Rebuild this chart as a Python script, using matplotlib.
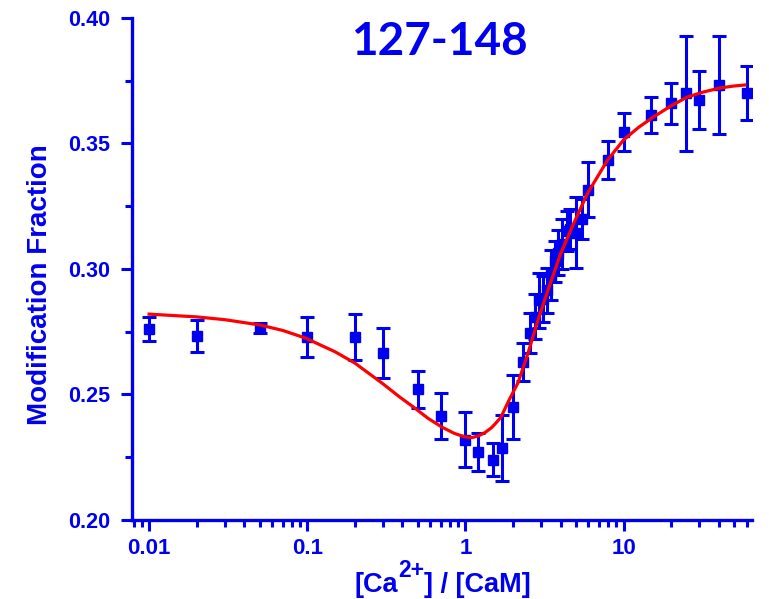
import matplotlib.pyplot as plt
from matplotlib.ticker import FixedLocator, LogLocator, NullFormatter

BLUE = '#0000f0'
RED = '#ff0000'

# measured modification fraction vs Ca/CaM ratio
ratio = [0.01, 0.02, 0.05, 0.1, 0.2, 0.3, 0.5, 0.7, 1.0, 1.2, 1.5, 1.7, 2.0,
         2.3, 2.55, 2.75, 2.9, 3.1, 3.3, 3.5, 3.7, 3.85, 4.1, 4.4, 4.6, 5.0,
         5.5, 6.0, 8.0, 10.0, 15.0, 20.0, 25.0, 30.0, 40.0, 60.0]
frac = [0.2761, 0.2733, 0.2765, 0.2729, 0.2729, 0.2665, 0.2520, 0.2414,
        0.2320, 0.2270, 0.2240, 0.2287, 0.2450, 0.2630, 0.2745, 0.2810,
        0.2875, 0.2880, 0.2915, 0.2975, 0.3030, 0.3065, 0.3100, 0.3150,
        0.3160, 0.3145, 0.3200, 0.3315, 0.3434, 0.3546, 0.3614, 0.3660,
        0.3700, 0.3673, 0.3733, 0.3700]
err = [0.0048, 0.0064, 0.0020, 0.0080, 0.0093, 0.0100, 0.0075, 0.0090,
       0.0110, 0.0075, 0.0065, 0.0130, 0.0128, 0.0075, 0.0080, 0.0090,
       0.0110, 0.0090, 0.0090, 0.0100, 0.0080, 0.0090, 0.0100, 0.0080,
       0.0080, 0.0140, 0.0080, 0.0110, 0.0076, 0.0076, 0.0072, 0.0082,
       0.0230, 0.0115, 0.0197, 0.0108]

# fitted binding curve
fit_x = [0.01, 0.02, 0.03, 0.05, 0.07, 0.097, 0.15, 0.2, 0.296, 0.38, 0.478,
         0.58, 0.71, 0.85, 0.99, 1.1, 1.21, 1.33, 1.46, 1.57, 1.68, 1.89,
         2.15, 2.49, 2.88, 3.33, 4.02, 4.85, 5.94, 7.93, 10.0, 12.5, 15.5,
         20.0, 25.3, 32.0, 40.7, 50.0, 58.5]
fit_y = [0.2820, 0.2809, 0.2798, 0.2777, 0.2755, 0.2725, 0.2670, 0.2625,
         0.2546, 0.2492, 0.2446, 0.2405, 0.2370, 0.2345, 0.2331, 0.2328,
         0.2335, 0.2348, 0.2367, 0.2388, 0.2410, 0.2478, 0.2546, 0.2665,
         0.2797, 0.2916, 0.3064, 0.3183, 0.3303, 0.3434, 0.3514, 0.3565,
         0.3606, 0.3650, 0.3685, 0.3705, 0.3721, 0.3729, 0.3733]

yticks = [0.20, 0.25, 0.30, 0.35, 0.40]

plt.rcParams['font.family'] = ['Liberation Sans', 'DejaVu Sans']
plt.rcParams['font.weight'] = 'bold'

fig = plt.figure(figsize=(7.69, 5.99), dpi=100)
ax = fig.add_axes([0.1717, 0.132, 0.8063, 0.838])

ax.errorbar(ratio, frac, yerr=err, fmt='s', color=BLUE, ms=7.5, elinewidth=2.2,
            capsize=5, capthick=2.2, zorder=2)
ax.plot(fit_x, fit_y, color=RED, lw=2.3, solid_joinstyle='round', zorder=3)

ax.set_xscale('log')
ax.set_xlim(0.0078, 65)
ax.set_ylim(0.20, 0.40)

ax.xaxis.set_major_locator(FixedLocator([0.01, 0.1, 1, 10]))
ax.set_xticklabels(['0.01', '0.1', '1', '10'])
ax.xaxis.set_minor_locator(LogLocator(base=10, subs=range(2, 10)))
ax.xaxis.set_minor_formatter(NullFormatter())
ax.set_yticks(yticks)
ax.set_yticklabels(['%.2f' % v for v in yticks])
ax.yaxis.set_minor_locator(FixedLocator([0.225, 0.275, 0.325, 0.375]))

for side in ['top', 'right']:
    ax.spines[side].set_visible(False)
for side in ['left', 'bottom']:
    ax.spines[side].set_color(BLUE)
    ax.spines[side].set_linewidth(2.4)

ax.tick_params(which='major', direction='out', length=8, width=2.2,
               color=BLUE, labelcolor=BLUE)
ax.tick_params(which='minor', direction='out', length=5, width=2.2, color=BLUE)
ax.tick_params(axis='y', labelsize=15.5, pad=8)
ax.tick_params(axis='x', labelsize=16, pad=5)

ax.set_ylabel('Modification Fraction', color=BLUE, fontsize=20,
              fontweight='bold')
ax.yaxis.set_label_coords(-0.127, 0.468)

# x label with a raised "2+" put together from three pieces
renderer = fig.canvas.get_renderer()
base_y = 7 / 599
parts = [('[Ca', 19.5, 0), ('2+', 16.5, 15), ('] / [CaM]', 19.5, 0)]
texts = []
x_px = 0
for s, size, rise in parts:
    t = fig.text(0, 0, s, fontsize=size, fontweight='bold', color=BLUE,
                 ha='left', va='baseline')
    w = t.get_window_extent(renderer).width
    texts.append((t, x_px, rise))
    x_px += w
start = 443 - x_px / 2
for t, off, rise in texts:
    t.set_position(((start + off) / 769, base_y + rise / 599))

fig.text(0.571, 0.93, '127-148', color=BLUE, fontsize=33, fontweight='bold',
         family=['Lato', 'DejaVu Sans'], ha='center', va='center')

plt.savefig('out.png', dpi=100)
